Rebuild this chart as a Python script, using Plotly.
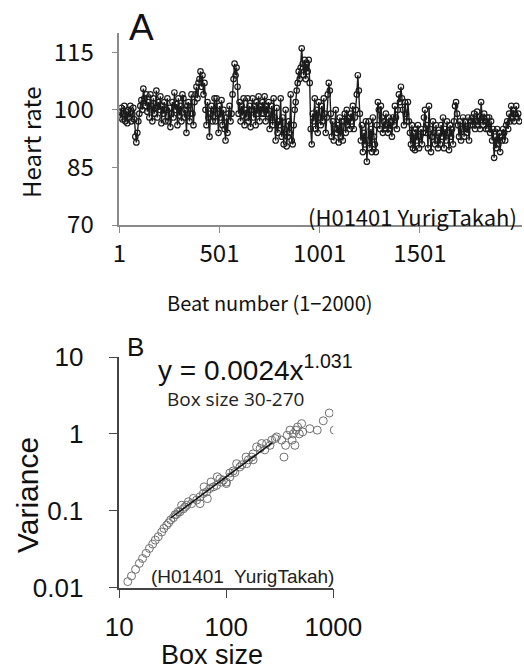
import plotly.graph_objects as go

# ---------------- Panel A data: heart rate per beat (every 5 beats) ----------------
beat_step = 5
heart_rate = [
    99.5, 98, 100.5, 97.5, 99, 101, 97, 99.5, 96.5, 100, 98, 101, 97, 99, 100.5, 97.5,
    93, 91.5, 94, 97, 99, 101, 102.5, 100, 105.5, 103, 101, 104, 99.5, 102, 98, 104,
    101, 97, 103, 99, 100.5, 105, 98, 102, 100, 103.5, 96.5, 101, 99, 102, 97, 100,
    103, 97, 100.5, 95.5, 99, 102, 98, 104.5, 100, 101.5, 96, 103, 98.5, 101, 97, 104,
    103, 98, 100, 94, 101, 102, 97, 99, 104, 99, 96, 102, 104, 106, 103, 107,
    108, 110, 106, 109, 104, 107, 100, 96, 102, 98, 93, 99, 101, 97, 100, 103,
    97, 103, 99, 94, 101, 98, 102.5, 96, 100, 95, 92, 98, 94, 99, 101, 97,
    99, 104, 108, 112, 109, 111, 106, 99, 102, 97, 101, 98.5, 103, 96, 100, 98,
    103, 97, 101, 95.5, 100, 103, 98, 101, 96, 102, 99, 103.5, 97, 101, 99, 102,
    99, 103.5, 97, 101, 99, 102, 95, 98, 101, 96, 103, 98, 92, 100.5, 94, 97,
    96, 103, 93, 98, 91, 95, 100, 90.5, 93, 97, 94, 104, 92, 91, 96, 100,
    102, 105, 107, 110, 108, 111, 116, 112, 109, 113, 108, 112, 110, 113, 107, 95,
    91, 99, 97, 103, 95, 100, 94, 102, 98, 96, 101, 97, 103, 99, 94, 98,
    104, 107, 105, 99, 93, 97, 92, 95, 100, 94, 96, 91.5, 98, 93, 97, 92,
    97, 99, 94, 100, 96, 98, 95, 99, 97, 101, 95, 98, 100, 104, 109, 105,
    99, 92, 96, 89, 94, 91, 97, 86.5, 92, 97, 90, 95, 89, 98, 93, 91,
    89, 96, 102, 100, 95, 101, 98, 94, 97, 95, 99, 96, 94, 98, 95, 97,
    93, 98, 96, 101, 98, 95, 100, 104, 102, 106, 103, 100, 96, 102, 99, 97,
    102, 97, 94, 91, 96, 90, 94, 89.5, 95, 92, 96, 90, 93, 95, 91, 94,
    98, 100, 94, 96, 90, 101, 95, 89, 93, 97, 94, 91, 96, 92, 90, 94,
    91, 96, 93, 98, 90, 95, 92, 97, 94, 89.5, 96, 93, 95, 91, 97, 101,
    102, 99, 96, 93, 97, 92, 95, 98, 93, 97, 95, 94, 98, 92, 96, 97,
    98, 96, 99, 95, 97, 99.5, 96, 98, 95, 102, 98, 96, 99, 97, 95, 98,
    95, 98, 94, 97, 92, 95, 87.5, 93, 90, 95, 91, 94, 89, 93, 92, 95,
    94, 92, 96, 97, 95, 99, 97, 101, 98, 100, 97, 99, 101, 98, 99, 97,
]
beats = list(range(1, 1 + beat_step * len(heart_rate), beat_step))

a_yticks = [70, 85, 100, 115]
a_xticks = [1, 501, 1001, 1501]

# ---------------- Panel B data: variance vs box size ----------------
box_size = [
    12.0, 13.0, 14.2, 15.4, 16.5, 17.8, 19.1, 20.5, 21.7, 23.1,
    24.9, 26.1, 27.7, 28.9, 30.2, 32.0, 33.2, 34.3, 35.6, 36.8,
    38.3, 39.6, 41.1, 42.6, 44.2, 47.4, 49.2, 52.9, 56.8, 56.8,
    61, 62, 65.5, 66.5, 70, 72, 76, 81, 82.4, 87,
    90, 94, 100, 100, 108, 108, 116, 120, 125, 134,
    140, 153, 155, 161, 173, 178, 178, 192, 207, 214,
    229, 238, 256, 266, 287, 295, 329, 346, 358, 370,
    394, 412, 423, 438, 447, 464, 481, 506, 517, 603,
    708, 806, 918, 1021,
]
variance = [
    0.0120, 0.0142, 0.0173, 0.0207, 0.024, 0.028, 0.0324, 0.0369, 0.0416, 0.046,
    0.053, 0.059, 0.065, 0.0697, 0.076, 0.0815, 0.089, 0.0898, 0.098, 0.0967,
    0.118, 0.106, 0.112, 0.118, 0.131, 0.124, 0.145, 0.138, 0.152, 0.124,
    0.168, 0.205, 0.176, 0.144, 0.195, 0.237, 0.205, 0.214, 0.277, 0.26,
    0.236, 0.25, 0.226, 0.236, 0.31, 0.275, 0.33, 0.315, 0.41, 0.372,
    0.397, 0.50, 0.41, 0.46, 0.50, 0.55, 0.46, 0.678, 0.645, 0.75,
    0.62, 0.75, 0.71, 0.83, 0.87, 0.914, 0.83, 0.50, 0.71, 0.96,
    1.12, 0.83, 1.0, 0.71, 1.12, 1.23, 1.0, 1.36, 1.06, 1.17,
    1.12, 1.48, 1.87, 1.12,
]
fit_coef = 0.0024
fit_exp = 1.031
fit_range = [30, 270]
b_xticks = [10, 100, 1000]
b_yticks = [0.01, 0.1, 1, 10]
b_yticklabels = ["0.01", "0.1", "1", "10"]

W, H = 524, 669


def px_x(p):
    return p / W


def px_y(p):
    return 1 - p / H


fig = go.Figure()

fig.add_trace(go.Scatter(
    x=beats, y=heart_rate, mode="lines+markers",
    line=dict(color="#1c1c1c", width=1.4),
    marker=dict(symbol="circle-open", size=5.5, color="#1c1c1c", line=dict(width=1.2)),
    xaxis="x", yaxis="y", showlegend=False, hoverinfo="skip",
))

fit_y = [fit_coef * v ** fit_exp for v in fit_range]

fig.add_trace(go.Scatter(
    x=box_size, y=variance, mode="markers",
    marker=dict(symbol="circle-open", size=8, color="#707070", line=dict(width=1)),
    xaxis="x2", yaxis="y2", showlegend=False, hoverinfo="skip",
))
fig.add_trace(go.Scatter(
    x=fit_range, y=fit_y, mode="lines",
    line=dict(color="#111111", width=1.5),
    xaxis="x2", yaxis="y2", showlegend=False, hoverinfo="skip",
))

fontA = "Noto Sans CJK JP, Liberation Sans, Arial, sans-serif"
fontB = "Liberation Sans, Arial, sans-serif"


def note(text, x, y, size, family, xanchor="center", angle=0, color="#111"):
    return dict(text=text, x=px_x(x), y=px_y(y), xref="paper", yref="paper",
                xanchor=xanchor, yanchor="middle", textangle=angle, showarrow=False,
                font=dict(family=family, size=size, color=color))


fig.update_layout(
    width=W, height=H,
    margin=dict(l=0, r=0, t=0, b=0),
    paper_bgcolor="white", plot_bgcolor="white",
    xaxis=dict(
        domain=[px_x(119.3), px_x(522)], range=[1, 2010],
        tickvals=a_xticks, ticktext=[str(v) for v in a_xticks],
        showline=True, linecolor="#8a8a8a", linewidth=1.5,
        ticks="outside", ticklen=6, tickcolor="#8a8a8a",
        showgrid=False, zeroline=False, automargin=False,
        ticklabelstandoff=0,
        tickfont=dict(family=fontA, size=24, color="#111"),
        anchor="y",
    ),
    yaxis=dict(
        domain=[px_y(225), px_y(33)], range=[70, 120],
        tickvals=a_yticks,
        showline=True, linecolor="#8a8a8a", linewidth=1.5,
        ticks="outside", ticklen=6, tickcolor="#8a8a8a",
        showgrid=False, zeroline=False, automargin=False,
        ticklabelstandoff=13,
        tickfont=dict(family=fontA, size=24, color="#111"),
        anchor="x",
    ),
    xaxis2=dict(
        domain=[px_x(119.3), px_x(333.3)], type="log", range=[1, 3],
        tickvals=b_xticks, ticktext=[str(v) for v in b_xticks],
        showline=True, linecolor="#444", linewidth=1.5,
        ticks="outside", ticklen=9, tickcolor="#444",
        showgrid=False, zeroline=False, automargin=False,
        ticklabelstandoff=6,
        tickfont=dict(family=fontB, size=26, color="#111"),
        anchor="y2",
    ),
    yaxis2=dict(
        domain=[px_y(587.7), px_y(357)], type="log", range=[-2, 1],
        tickvals=b_yticks, ticktext=b_yticklabels,
        showline=True, linecolor="#444", linewidth=1.5,
        ticks="outside", ticklen=9, tickcolor="#444",
        showgrid=False, zeroline=False, automargin=False,
        ticklabelstandoff=20,
        tickfont=dict(family=fontB, size=26, color="#111"),
        anchor="x2",
    ),
    annotations=[
        note("A", 141, 28, 37, fontB),
        note("Heart rate", 30, 143, 24, fontA, angle=-90),
        note("Beat number (1\u22122000)", 270, 302, 20, fontA),
        note("(H01401 YurigTakah)", 519, 216, 22, fontA, xanchor="right"),
        note("B", 135, 347, 26, fontB),
        note("y = 0.0024x<sup>1.031</sup>", 156, 368, 28, fontB, xanchor="left"),
        note("Box size 30-270", 235, 399, 19, "Open Sans, sans-serif", color="#222"),
        note("(H01401  YurigTakah)", 242, 576, 19, fontB, color="#222"),
        note("Variance", 27, 495, 30, fontB, angle=-90),
        note("Box size", 212, 655, 27, fontB),
    ],
)

fig.write_html("out.html", config={"displayModeBar": False},
               post_script="document.body.style.margin='0px';")
